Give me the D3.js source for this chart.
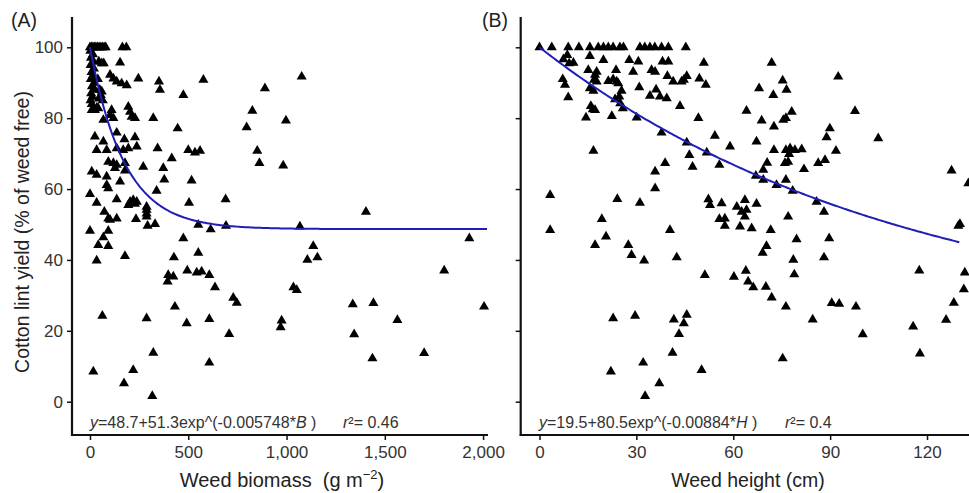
<!DOCTYPE html>
<html><head><meta charset="utf-8">
<script src="https://cdn.jsdelivr.net/npm/d3@7"></script>
<style>
body{margin:0;background:#fff;}
text{font-family:"Liberation Sans",Arial,sans-serif;}
</style></head>
<body><svg id="c" width="969" height="493"></svg>
<script>
// ---------- data ----------
const yTicks = [0, 20, 40, 60, 80, 100];
const biomassTicks = [0, 500, 1000, 1500, 2000];
const heightTicks = [0, 30, 60, 90, 120];

// Panel A: weed biomass (g m-2) vs yield (% of weed free)
const biomassA = [0,8,15,22,30,38,46,55,63,72,80,165,185,
2,5,3,8,4,10,6,12,3,15,18,20,14,22,25,9,45,60,70,40,50,55,65,45,35,60,
153,102,119,136,161,187,246,351,356,475,577,890,1077,
195,204,212,229,322,9,25,42,110,102,119,68,
826,797,997,851,862,983,446,
25,68,136,175,229,
34,85,136,169,195,238,344,500,534,560,416,
93,119,136,127,178,271,373,
9,34,85,178,153,85,93,378,517,339,
0,34,136,204,220,238,195,229,288,288,288,288,504,690,
73,93,102,136,234,293,331,551,614,692,1068,1404,
0,93,68,42,93,475,1930,1136,
178,34,427,551,1106,1157,
398,424,395,495,543,568,607,636,1802,1035,1052,
432,63,288,492,607,729,747,708,975,970,1337,1344,1442,1564,2005,
322,607,1437,1700,
17,220,173,317];
const yieldA = [100,100,100,100,100,100,100,100,100,100,100,100,100,
99,97,95,93,91,89,87,86,85,98,96,94,92,90,88,84,96,95.5,95.5,91,88,86.5,85,85.5,83,87.5,
95.7,92.2,91.2,90.3,89.8,89.3,91.2,90.3,88,86.5,90.8,88.4,91.7,
83.2,81.8,80.4,80,80,82.3,82.3,82.8,82.3,80.9,80,79.5,
82.1,77.4,79.3,70.8,67.3,66.6,77.1,
74.8,73.4,75.9,74,74.6,
71,71,71.5,71,71.5,72,71.5,71,70.3,70.8,68.7,
67.7,67.3,66.8,65.9,67.3,66.3,65.9,
64.9,64,63.5,65.2,62.1,61.1,60.2,62.7,62.4,59.5,
58.6,56.1,57.1,56.4,56.9,56.4,55.5,55.8,55,54.1,53.1,52.2,56.1,57.1,
53.6,51.7,51.3,51.7,51.5,49.6,50.1,49.9,48.6,49.6,49.4,53.6,
48.2,48.2,46.4,44.2,43.9,46.1,46.1,43.9,
41.1,39.8,40.7,42,40,40.7,
35.7,35.3,33.9,37,36.4,36.7,35.7,32.3,37,32.3,31.5,
26.8,24.2,23.5,22.1,23.3,29.3,27.9,19.1,22.9,21,27.5,19,27.8,23,26.8,
13.8,11,12.2,13.7,
8.5,8.9,5.2,1.6];

// Panel B: weed height (cm) vs yield (% of weed free)
const heightB = [0,3.8,8.9,12.2,15.6,18.2,19.8,21.3,22.8,24.9,26,31.1,32.6,34.2,35.7,37.8,39.9,45.3,
8.6,7.4,10.5,9.2,15.6,19.8,27.8,30.6,38.1,39.9,50.9,71.9,
15.1,17.7,17.2,23.7,29,34.7,35.8,39.6,41.4,45.6,44,44.7,49.5,51.5,
7.2,7.9,16.9,17.7,21.3,22.8,23.9,15.6,16.7,24.4,25.4,30.9,36.1,34.2,37.3,39.4,8.9,23.4,24.7,25,
68,72.4,75.3,76.5,92.5,
15.9,17.2,16.5,14.4,22.4,25.8,43.5,49.2,30.1,
37.8,45.6,46.4,47.4,51.8,54.3,59,55.7,64.1,67.2,68.8,72.6,75.5,76.3,78.1,72.6,76.3,77.6,79.1,81.2,77.3,76,77,70.5,69.3,76.3,81.9,86.3,88.4,88.9,89.9,91.8,97.7,104.9,127.6,129.7,130.2,132.8,
16.7,38.9,35.8,35.8,3.3,3.3,24.1,31.1,19.3,20.6,17.2,27.5,40.4,
52.3,52.8,56.4,61.1,62.6,63.6,64.1,63.6,67.2,55.7,57.4,57.4,62.1,65.7,71.6,77,79.6,88.1,89.7,70.3,
67,69.3,73.4,78.4,85.8,
28.5,32.4,42.5,51.2,60.2,63.9,64.6,66.2,69.1,70.1,71.9,76.3,78.6,78.9,88.1,90.5,92.8,98,84.6,100.1,75.3,117.6,115.7,117.8,125.9,128.3,131.4,131.7,
22.8,29.6,22.1,32.1,37.1,32.7,41.2,41.6,44.7,45.6,43.2,50.2];
const yieldB = [100,100,100,100,100,100,100,100,100,100,100,100,100,100,100,100,100,100,
97.8,96.6,95.6,95.5,97.5,96.4,96.4,96,96,96,95.6,95.6,
93.6,93.1,92.2,93.6,93.1,93.6,93.1,91.9,90.3,91.9,90.3,90.8,91.2,89.4,
91,89.4,90.8,90.3,90.5,91,90.3,88.4,87.7,89.8,87.7,88.7,88.1,86.3,86.1,85.6,85.9,85.3,86.1,84.2,
88.4,86.5,90.6,88,91.7,
83.4,82.3,82.5,80.2,80.6,82.8,83.4,80,80.2,
75.9,73.1,69.6,66.3,70.3,75,72,66.8,82.1,73.4,79.3,77.6,79.5,80,81.8,71,71,71.5,71,71.2,69.9,67.3,67.7,67.4,65.4,62.6,65.6,67.3,68.2,74.6,77.1,70.8,82,74.3,65.2,49.6,50.1,61.6,
70.8,67.3,64.9,60.2,58.3,48.4,57.2,56.1,51.5,46.6,44.2,44.2,48.4,
57.1,55.5,56,55,53.6,56.9,54.1,52.2,55.8,51.5,51.7,49.6,49.4,48.9,48.4,52.2,45.8,53.6,46.1,43.9,
63.7,62.6,61.1,59.5,56.4,
41.4,39.8,40.7,35.7,35.2,36.9,33.9,32.3,42,32.4,29.4,26.8,40,35.9,40.7,27.8,27.6,26.8,23.2,19,12.2,37,21.2,13.6,23.1,27.9,31.7,36.4,
23.5,24.2,8.5,11,5.2,1.6,13.8,23.2,22.1,24.5,19.1,8.9];

// fitted models y = a + b*exp(-k*x), as printed on the chart
const fitA = [48.7, 51.3, 0.005748];
const fitB = [19.5, 80.5, 0.00884];
const fitRangeA = [0, 2020];
const fitRangeB = [0, 130];

// ---------- drawing ----------
const svg = d3.select("#c");
const yScale = d3.scaleLinear().domain([-9.4, 108.55]).range([435, 17]);
const xA = d3.scaleLinear().domain([-91.5, 2025]).range([72, 488]);
const xB = d3.scaleLinear().domain([-5.82, 133]).range([520.7, 969]);
const tri = d3.symbol().type(d3.symbolTriangle).size(44);
const axisCol = "#111";
const labCol = "#333";

function panel(xs, xTicks, xFmt, xv, yv, fit, fitRange, showYLabels) {
  const g = svg.append("g");
  const ya = d3.axisLeft(yScale).tickValues(yTicks).tickSize(5).tickPadding(4)
    .tickFormat(showYLabels ? d3.format("d") : "");
  const yg = g.append("g").attr("transform", `translate(${xs.range()[0]},0)`).call(ya);
  yg.select(".domain").remove();
  yg.selectAll("line").attr("stroke", axisCol).attr("stroke-width", 1.5);
  yg.selectAll("text").attr("font-size", 17).attr("fill", labCol)
    .style("font-family", '"Liberation Sans",Arial,sans-serif');
  const xa = d3.axisBottom(xs).tickValues(xTicks).tickSize(5).tickPadding(6).tickFormat(xFmt);
  const xg = g.append("g").attr("transform", `translate(0,${yScale.range()[0]})`).call(xa);
  xg.select(".domain").remove();
  xg.selectAll("line").attr("stroke", axisCol).attr("stroke-width", 1.5);
  xg.selectAll("text").attr("font-size", 17).attr("fill", labCol)
    .style("font-family", '"Liberation Sans",Arial,sans-serif');
  g.append("line").attr("x1", xs.range()[0]).attr("x2", xs.range()[0])
    .attr("y1", yScale.range()[1]).attr("y2", yScale.range()[0] + 1)
    .attr("stroke", axisCol).attr("stroke-width", 2.2);
  g.append("line").attr("x1", xs.range()[0] - 1).attr("x2", xs.range()[1])
    .attr("y1", yScale.range()[0]).attr("y2", yScale.range()[0])
    .attr("stroke", axisCol).attr("stroke-width", 2.2);
  g.append("g").selectAll("path").data(xv.map((d, i) => [d, yv[i]])).join("path")
    .attr("d", tri)
    .attr("transform", d => `translate(${xs(d[0])},${yScale(d[1])})`)
    .attr("fill", "#000");
  const n = 200;
  const pts = d3.range(n + 1).map(i => {
    const x = fitRange[0] + (fitRange[1] - fitRange[0]) * i / n;
    return [x, fit[0] + fit[1] * Math.exp(-fit[2] * x)];
  });
  g.append("path").datum(pts)
    .attr("d", d3.line().x(d => xs(d[0])).y(d => yScale(d[1])))
    .attr("fill", "none").attr("stroke", "#1f1fb8").attr("stroke-width", 2);
  return g;
}

panel(xA, biomassTicks, d3.format(","), biomassA, yieldA, fitA, fitRangeA, true);
panel(xB, heightTicks, d3.format("d"), heightB, yieldB, fitB, fitRangeB, false);

function equation(x, rx, parts, rtext) {
  const t = svg.append("text").attr("x", x).attr("y", 428).attr("font-size", 16).attr("fill", labCol);
  parts.forEach(p => {
    const ts = t.append("tspan").text(p[0]);
    if (p[1]) ts.attr("font-style", "italic");
  });
  const r = svg.append("text").attr("x", rx).attr("y", 428).attr("font-size", 16).attr("fill", labCol);
  r.append("tspan").attr("font-style", "italic").text("r");
  r.append("tspan").text("²= " + rtext);
}
equation(90, 343, [["y", 1], ["=48.7+51.3exp^(-0.005748*", 0], ["B", 1], ["\u00a0)", 0]], "0.46");
equation(539, 785, [["y", 1], ["=19.5+80.5exp^(-0.00884*", 0], ["H", 1], ["\u00a0)", 0]], "0.4");

const xtA = svg.append("text").attr("x", 282).attr("y", 487).attr("text-anchor", "middle")
  .attr("font-size", 20).attr("fill", "#222");
xtA.append("tspan").text("Weed biomass\u00a0\u00a0(g m");
xtA.append("tspan").attr("font-size", 13).attr("dy", -8).text("\u22122");
xtA.append("tspan").attr("dy", 8).text(")");

svg.append("text").attr("x", 748).attr("y", 487).attr("text-anchor", "middle")
  .attr("font-size", 19.5).attr("fill", "#222").text("Weed height (cm)");

svg.append("text").attr("transform", "translate(29,232) rotate(-90)").attr("text-anchor", "middle")
  .attr("font-size", 19.5).attr("fill", "#222").text("Cotton lint yield (% of weed free)");

svg.append("text").attr("x", 11).attr("y", 27).attr("font-size", 19.5).attr("fill", "#222").text("(A)");
svg.append("text").attr("x", 482).attr("y", 27).attr("font-size", 19.5).attr("fill", "#222").text("(B)");
</script>
</body></html>
